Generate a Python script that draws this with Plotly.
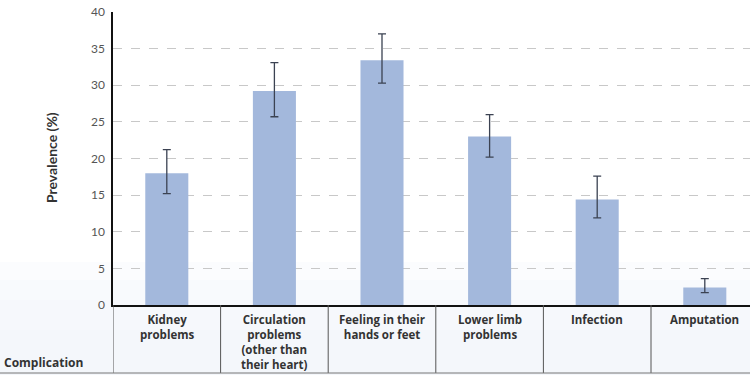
import plotly.graph_objects as go

categories = ["Kidney<br>problems",
              "Circulation<br>problems<br>(other than<br>their heart)",
              "Feeling in their<br>hands or feet",
              "Lower limb<br>problems",
              "Infection",
              "Amputation"]
prevalence = [18.0, 29.2, 33.4, 23.0, 14.4, 2.4]
ci_upper = [21.2, 33.1, 37.0, 26.0, 17.6, 3.6]
ci_lower = [15.2, 25.7, 30.3, 20.2, 11.9, 1.7]
y_ticks = [0, 5, 10, 15, 20, 25, 30, 35, 40]

x_idx = list(range(len(categories)))
err_plus = [u - v for u, v in zip(ci_upper, prevalence)]
err_minus = [v - l for v, l in zip(prevalence, ci_lower)]

FONT = "Lato"
CAT_FONT = "Open Sans"
fig = go.Figure()
fig.add_trace(go.Bar(
    x=x_idx, y=prevalence, width=0.4,
    marker=dict(color="#a3b8dc", line=dict(width=0)),
    error_y=dict(type="data", symmetric=False, array=err_plus, arrayminus=err_minus,
                 color="#3b4252", thickness=1.3, width=4),
    showlegend=False,
))

# plot geometry (pixels)
PLOT_L, PLOT_W = 113, 637
PLOT_T, PLOT_H = 12, 293
def py(p):
    return (PLOT_T + PLOT_H - p) / PLOT_H
def px(p):
    return (p - PLOT_L) / PLOT_W

shapes = []
# subtle tinted gradient at the bottom
tints = [(262, "#fbfcfe"), (280, "#f8fafd"), (300, "#f6f8fc"), (330, "#f4f7fb")]
for top, col in tints:
    shapes.append(dict(type="rect", xref="paper", yref="paper",
                       x0=px(0), x1=1, y0=py(375), y1=py(top),
                       fillcolor=col, line=dict(width=0), layer="below"))
# category separators
for i in range(len(categories)):
    shapes.append(dict(type="line", xref="x", yref="paper",
                       x0=i - 0.5, x1=i - 0.5, y0=py(373), y1=0,
                       line=dict(color="#555555", width=1)))
# bottom line
shapes.append(dict(type="line", xref="paper", yref="paper",
                   x0=px(0), x1=1, y0=py(373), y1=py(373),
                   line=dict(color="#777777", width=1)))

annotations = []
for i, c in enumerate(categories):
    annotations.append(dict(x=i, y=py(310), xref="x", yref="paper",
                            text="<b>" + c + "</b>", showarrow=False,
                            xanchor="center", yanchor="top", align="center",
                            font=dict(family=CAT_FONT, size=11.5, color="#333333")))
annotations.append(dict(x=px(2), y=py(362), xref="paper", yref="paper",
                        text="<b>Complication</b>", showarrow=False,
                        xanchor="left", yanchor="middle",
                        font=dict(family=CAT_FONT, size=12, color="#333333")))
annotations.append(dict(x=px(51), y=py(158), xref="paper", yref="paper",
                        text="<b>Prevalence (%)</b>", showarrow=False, textangle=-90,
                        xanchor="center", yanchor="middle",
                        font=dict(family=FONT, size=14, color="#333333")))

fig.update_layout(
    width=750, height=375,
    margin=dict(l=PLOT_L, r=0, t=PLOT_T, b=375 - PLOT_T - PLOT_H),
    paper_bgcolor="white", plot_bgcolor="rgba(0,0,0,0)",
    font=dict(family=FONT),
    shapes=shapes, annotations=annotations,
    xaxis=dict(range=[-0.5, -0.5 + PLOT_W / 107.6], showticklabels=False, showgrid=False,
               zeroline=False, showline=True, linecolor="#111111", linewidth=2, ticks=""),
    yaxis=dict(range=[0, 40], tickvals=y_ticks, showgrid=True, gridcolor="#c8c8c8",
               griddash="dash", gridwidth=1, zeroline=False, showline=True,
               linecolor="#111111", linewidth=1.5, ticks="", ticklabelstandoff=4,
               tickfont=dict(family=FONT, size=12, color="#555555")),
    bargap=0.6,
)
fig.write_html("out.html", config={"displayModeBar": False},
               post_script="document.body.style.margin='0';")
